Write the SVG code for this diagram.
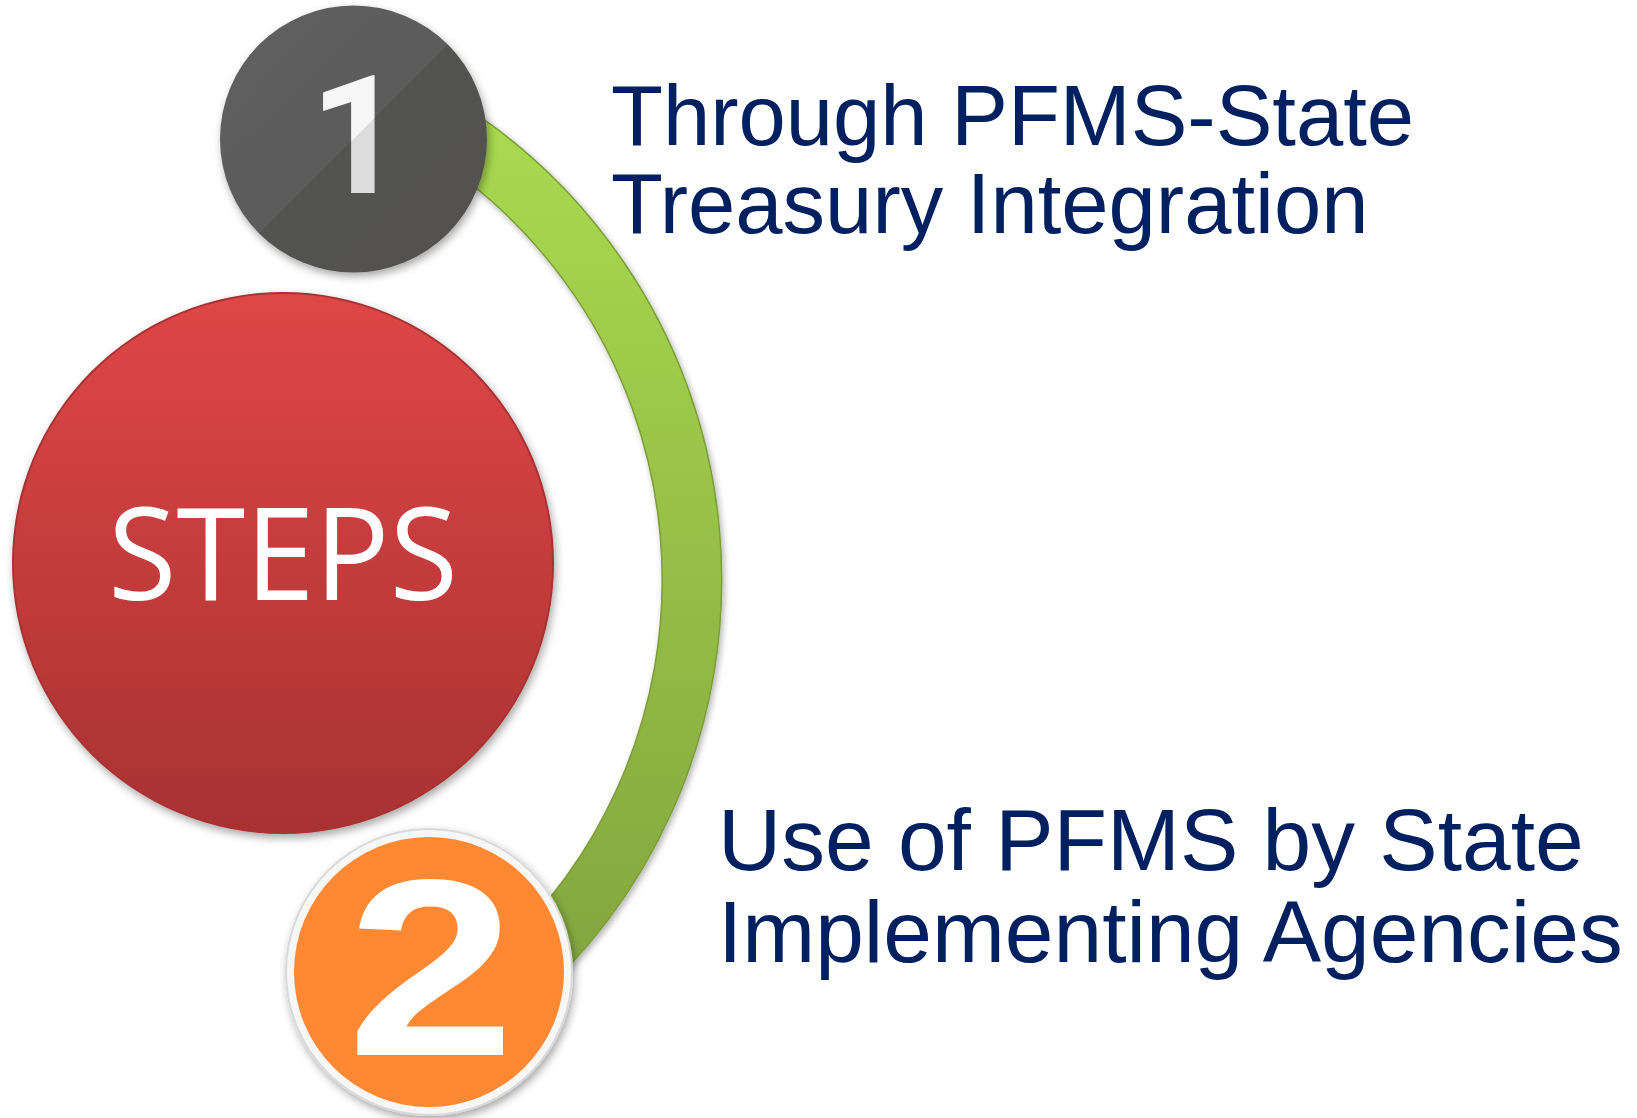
<svg xmlns="http://www.w3.org/2000/svg" width="1637" height="1118" viewBox="0 0 1637 1118">
  <defs>
    <style>
      .label { font-family: "Liberation Sans", Arial, sans-serif; fill: #002060; }
      .steps { font-family: "Open Sans", "Noto Sans", sans-serif; fill: #ffffff; }
      .digit { font-family: "Liberation Sans", Arial, sans-serif; font-weight: bold; }
      .one { font-family: Roboto, "Open Sans", sans-serif; font-weight: bold; }
    </style>
    <linearGradient id="greenGrad" x1="0" y1="0" x2="0" y2="1">
      <stop offset="0" stop-color="#a9da4f"/>
      <stop offset="1" stop-color="#82a53e"/>
    </linearGradient>
    <linearGradient id="redGrad" x1="0" y1="0" x2="0" y2="1">
      <stop offset="0" stop-color="#e04646"/>
      <stop offset="1" stop-color="#a83232"/>
    </linearGradient>
    <linearGradient id="grayGrad" gradientUnits="userSpaceOnUse" x1="220" y1="5" x2="487" y2="273">
      <stop offset="0" stop-color="#5f5f5f"/>
      <stop offset="0.5" stop-color="#5c5c5c"/>
      <stop offset="0.5" stop-color="#535251"/>
      <stop offset="1" stop-color="#525150"/>
    </linearGradient>
    <linearGradient id="oneGrad" gradientUnits="userSpaceOnUse" x1="220" y1="5" x2="487" y2="273">
      <stop offset="0.5" stop-color="#f6f6f6"/>
      <stop offset="0.5" stop-color="#dcdcdc"/>
    </linearGradient>
    <filter id="shadow" x="-20%" y="-20%" width="140%" height="140%">
      <feDropShadow dx="2" dy="4" stdDeviation="4" flood-color="#000000" flood-opacity="0.35"/>
    </filter>
    <filter id="softShadow" x="-20%" y="-20%" width="140%" height="140%">
      <feDropShadow dx="2" dy="3" stdDeviation="3" flood-color="#000000" flood-opacity="0.3"/>
    </filter>
  </defs>

  <rect x="0" y="0" width="1637" height="1118" fill="#ffffff"/>

  <g id="connectors">
    <path d="M 424.5 116.7 A 535 535 0 0 1 500.9 989.8" fill="none" stroke="#7c9d38" stroke-width="61" filter="url(#softShadow)"/>
    <path d="M 424.5 116.7 A 535 535 0 0 1 500.9 989.8" fill="none" stroke="url(#greenGrad)" stroke-width="58"/>
  </g>

  <g id="node-steps">
    <circle cx="283" cy="563" r="271" fill="#a83030" filter="url(#shadow)"/>
    <circle cx="283" cy="563" r="269" fill="url(#redGrad)"/>
    <text class="steps" x="283" y="600" font-size="129" text-anchor="middle" textLength="350" lengthAdjust="spacingAndGlyphs">STEPS</text>
  </g>

  <g id="node-1">
    <circle cx="353.5" cy="139" r="133.5" fill="url(#grayGrad)" filter="url(#shadow)"/>
    <text class="one" x="357" y="193" font-size="166" text-anchor="middle" fill="url(#oneGrad)">1</text>
  </g>

  <g id="node-2">
    <circle cx="429" cy="972" r="144" fill="#d9d9d9" filter="url(#shadow)"/>
    <circle cx="429" cy="972" r="142" fill="#f7f7f7"/>
    <circle cx="429" cy="972" r="135" fill="#ff8833"/>
    <text class="digit" x="0" y="0" font-size="252" text-anchor="middle" fill="#ffffff" transform="translate(431 1055) scale(1.2 1)">2</text>
  </g>

  <g id="label-1">
    <text class="label" x="611" y="145" font-size="85">Through PFMS-State</text>
    <text class="label" x="611" y="233" font-size="85">Treasury Integration</text>
  </g>

  <g id="label-2">
    <text class="label" x="718" y="870" font-size="87.5">Use of PFMS by State</text>
    <text class="label" x="718" y="962" font-size="87.5">Implementing Agencies</text>
  </g>
</svg>
